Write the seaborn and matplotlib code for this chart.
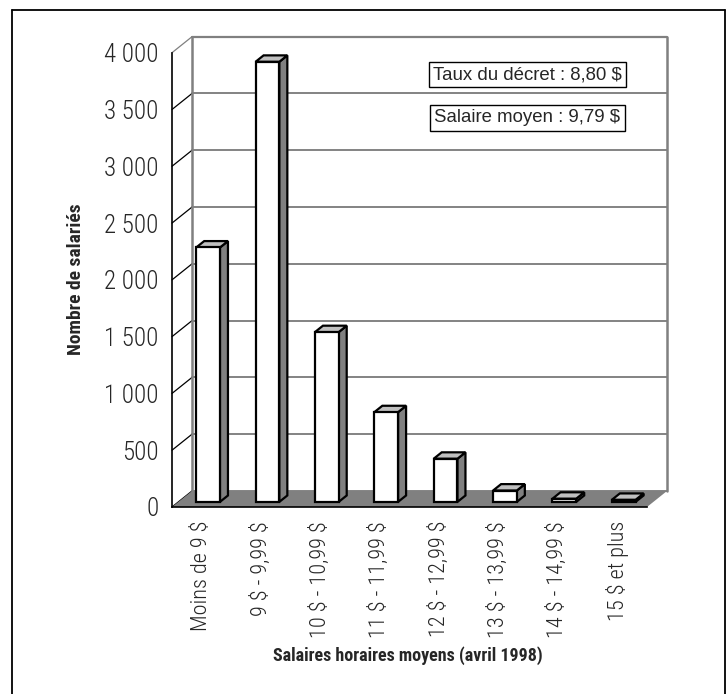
import matplotlib
matplotlib.use("Agg")
import matplotlib.pyplot as plt
from matplotlib.patches import Polygon, Rectangle
from matplotlib.lines import Line2D
import numpy as np
import pandas as pd
import seaborn as sns

# Hourly wage brackets and number of employees in each
categories = ["Moins de 9 $", "9 $ - 9,99 $", "10 $ - 10,99 $", "11 $ - 11,99 $",
              "12 $ - 12,99 $", "13 $ - 13,99 $", "14 $ - 14,99 $", "15 $ et plus"]
employees = [2240, 3875, 1495, 790, 380, 100, 28, 18]
y_ticks = [0, 500, 1000, 1500, 2000, 2500, 3000, 3500, 4000]
notes = ["Taux du décret : 8,80 $", "Salaire moyen : 9,79 $"]
x_title = "Salaires horaires moyens (avril 1998)"
y_title = "Nombre de salariés"

sns.set_style("white")
NARROW = ["Roboto Condensed", "Liberation Sans", "DejaVu Sans"]
REGULAR = ["Liberation Sans", "DejaVu Sans"]
plt.rcParams["font.family"] = NARROW
plt.rcParams["text.parse_math"] = False

W, H, DPI = 727, 694, 100
fig = plt.figure(figsize=(W / DPI, H / DPI), dpi=DPI)
fig.patch.set_facecolor("white")

# front plane of the 3-D box, in pixels
x0_px, x1_px, y0_px, y1_px = 172, 647, 507, 52.7
ax = fig.add_axes([x0_px / W, (H - y0_px) / H, (x1_px - x0_px) / W, (y0_px - y1_px) / H])
ax.set_facecolor("none")

df = pd.DataFrame({"cat": categories, "n": employees})
sns.barplot(data=df, x="cat", y="n", color="white", saturation=1, width=0.4,
            edgecolor="black", linewidth=1.6, ax=ax, zorder=4)

ymax = y_ticks[-1]
ax.set_xlim(-0.5, len(categories) - 0.5)
ax.set_ylim(0, ymax)

# pixel offsets -> data units
cat_per_px = len(categories) / (x1_px - x0_px)
val_per_px = ymax / (y0_px - y1_px)
wall_dx, wall_dy = 20 * cat_per_px, 16 * val_per_px      # box depth
plane_f, bar_f = 0.32, 0.40                               # bar plane & bar depth
bdx, bdy = wall_dx * bar_f, wall_dy * bar_f

xl, xr = -0.5, len(categories) - 0.5
grey = "#808080"

# back wall: edges and gridlines
for v in y_ticks:
    ax.add_line(Line2D([xl + wall_dx, xr + wall_dx], [v + wall_dy, v + wall_dy],
                       color=grey if v == ymax else "#6e6e6e",
                       lw=1.6 if v == ymax else 1.2, zorder=1, clip_on=False))
    # left wall diagonals
    ax.add_line(Line2D([xl, xl + wall_dx], [v, v + wall_dy],
                       color="black" if v < ymax else grey, lw=0.9, zorder=1, clip_on=False))
for xe in (xl, xr):
    ax.add_line(Line2D([xe + wall_dx, xe + wall_dx], [wall_dy, ymax + wall_dy],
                       color=grey, lw=1.8, zorder=1, clip_on=False))

# floor
ax.add_patch(Polygon([(xl, 0), (xr, 0), (xr + wall_dx, wall_dy), (xl + wall_dx, wall_dy)],
                     closed=True, facecolor=grey, edgecolor="none", zorder=2, clip_on=False))

# bars: move to their plane, add side and top faces
bars = [p for p in ax.patches if isinstance(p, Rectangle) and p.get_width() < 0.9]
for p in bars:
    h = p.get_height()
    x = p.get_x() + wall_dx * plane_f
    y = wall_dy * plane_f
    w = p.get_width()
    p.set_x(x)
    p.set_y(y)
    p.set_clip_on(False)
    p.set_joinstyle("miter")
    side = Polygon([(x + w, y), (x + w + bdx, y + bdy), (x + w + bdx, y + h + bdy), (x + w, y + h)],
                   closed=True, facecolor=grey, edgecolor="black", lw=1.6,
                   joinstyle="miter", zorder=3, clip_on=False)
    top = Polygon([(x, y + h), (x + w, y + h), (x + w + bdx, y + h + bdy), (x + bdx, y + h + bdy)],
                  closed=True, facecolor="#c0c0c0", edgecolor="black", lw=1.6,
                  joinstyle="miter", zorder=3, clip_on=False)
    ax.add_patch(side)
    ax.add_patch(top)

# axes
for s in ("top", "right"):
    ax.spines[s].set_visible(False)
for s in ("left", "bottom"):
    ax.spines[s].set_color("black")
    ax.spines[s].set_linewidth(1.2)
    ax.spines[s].set_zorder(5)

ax.set_yticks(y_ticks)
ax.set_yticklabels([f"{v:,}".replace(",", " ") for v in y_ticks])
ax.tick_params(axis="y", direction="out", length=8, width=1, color="black",
               pad=1.5, labelsize=18)
for t in ax.get_yticklabels():
    t.set_fontweight(300)

ax.set_xticks(range(len(categories)))
ax.set_xticklabels(categories, rotation=90, fontsize=16, fontweight=300)
ax.tick_params(axis="x", which="major", length=0, pad=10)
ax.set_xticks(np.arange(-0.5, len(categories)), minor=True)
ax.tick_params(axis="x", which="minor", direction="out", length=7.5, width=1, color="#333333")
ax.set_xlabel("")
ax.set_ylabel("")

fig.text(76 / W, (H - 279) / H, y_title, rotation=90, ha="center", va="center",
         fontsize=14, fontweight="bold")
fig.text(408 / W, (H - 656) / H, x_title, ha="center", va="center",
         fontsize=13, fontweight="bold")

# annotation boxes
for txt, cy in zip(notes, (74.5, 118)):
    fig.text(527.5 / W, (H - cy) / H, txt, ha="center", va="center", fontsize=13.4,
             family=REGULAR,
             bbox=dict(boxstyle="square,pad=0.22", facecolor="white", edgecolor="black", lw=1))

# outer frame
fx0, fx1, fy0 = 12 / W, 725 / W, (H - 10) / H
for xs, ys in (([fx0, fx0], [fy0, -0.1]), ([fx1, fx1], [fy0, -0.1]), ([fx0, fx1], [fy0, fy0])):
    fig.add_artist(Line2D(xs, ys, color="black", lw=1.3, transform=fig.transFigure))

fig.savefig("out.png", dpi=DPI, facecolor="white")
